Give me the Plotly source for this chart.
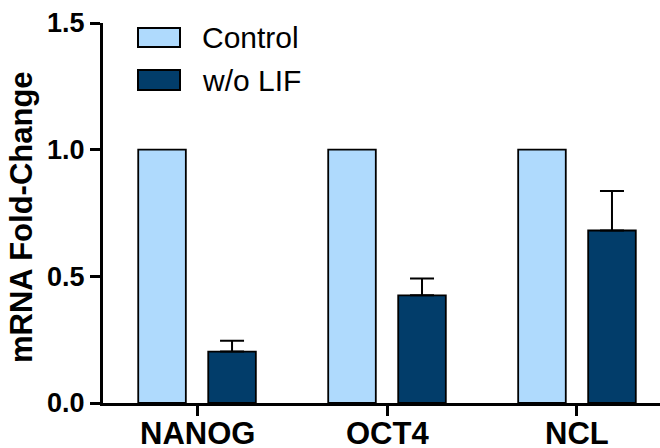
import plotly.graph_objects as go

categories = ["NANOG", "OCT4", "NCL"]
control_values = [1.0, 1.0, 1.0]
wolif_values = [0.203, 0.425, 0.681]
wolif_err = [0.043, 0.066, 0.156]
series_names = ["Control", "w/o LIF"]
y_ticks = [0.0, 0.5, 1.0, 1.5]

COL_CONTROL = "#AFDAFD"
COL_WOLIF = "#023D6A"
FONT = "Liberation Sans, Arial, sans-serif"

W, H = 660, 448
ML, MR, MT, MB = 103, 0, 23, 45
pw = W - ML - MR
ph = H - MT - MB

def px_x(x):
    return (x - ML) / pw

def px_y(y):
    return (H - MB - y) / ph

fig = go.Figure()
fig.add_trace(go.Bar(
    x=categories, y=control_values, name=series_names[0],
    marker=dict(color=COL_CONTROL, line=dict(color="black", width=1.8)),
    showlegend=False,
))
fig.add_trace(go.Bar(
    x=categories, y=wolif_values, name=series_names[1],
    marker=dict(color=COL_WOLIF, line=dict(color="black", width=1.8)),
    error_y=dict(type="data", array=wolif_err, arrayminus=[0] * len(wolif_err),
                 symmetric=False, color="black", thickness=2, width=12),
    showlegend=False,
))

fig.update_layout(
    width=W, height=H,
    margin=dict(l=ML, r=MR, t=MT, b=MB, autoexpand=False),
    paper_bgcolor="white", plot_bgcolor="white",
    barmode="group", bargap=0.263, bargroupgap=0.32,
    font=dict(family=FONT, color="black"),
    xaxis=dict(
        range=[-0.495, 2.437], showgrid=False, zeroline=False,
        automargin=False, showticklabels=False,
        showline=True, linecolor="black", linewidth=3,
        ticks="outside", ticklen=10, tickwidth=3, tickcolor="black",
    ),
    yaxis=dict(
        range=[0, 1.5], tickvals=y_ticks, tickformat=".1f",
        showgrid=False, zeroline=False,
        automargin=False,
        showline=True, linecolor="black", linewidth=3,
        ticks="outside", ticklen=10, tickwidth=3, tickcolor="black",
        tickfont=dict(family=FONT, size=27, color="black", weight="bold"),
    ),
)

# Category labels (placed at the category positions of the x axis)
for cat in categories:
    fig.add_annotation(
        text=f"<b>{cat}</b>", xref="x", yref="paper", x=cat, y=px_y(434),
        xanchor="center", yanchor="middle", showarrow=False,
        font=dict(family=FONT, size=31, color="black"),
    )

# Y-axis title
fig.add_annotation(
    text="<b>mRNA Fold-Change</b>", textangle=-90,
    xref="paper", yref="paper", x=px_x(21), y=px_y(217),
    xanchor="center", yanchor="middle", showarrow=False,
    font=dict(family=FONT, size=31, color="black"),
)

# Legend (drawn manually to match box proportions)
legend_rows = [(series_names[0], COL_CONTROL, 28, 47, 37),
               (series_names[1], COL_WOLIF, 70, 90, 80)]
for name, col, y0, y1, yc in legend_rows:
    fig.add_shape(type="rect", xref="paper", yref="paper",
                  x0=px_x(138), x1=px_x(180), y0=px_y(y1), y1=px_y(y0),
                  fillcolor=col, line=dict(color="black", width=2))
    fig.add_annotation(text=name, xref="paper", yref="paper",
                       x=px_x(200), y=px_y(yc), xanchor="left", yanchor="middle",
                       showarrow=False,
                       font=dict(family=FONT, size=30, color="black"))

fig.write_html("out.html")
